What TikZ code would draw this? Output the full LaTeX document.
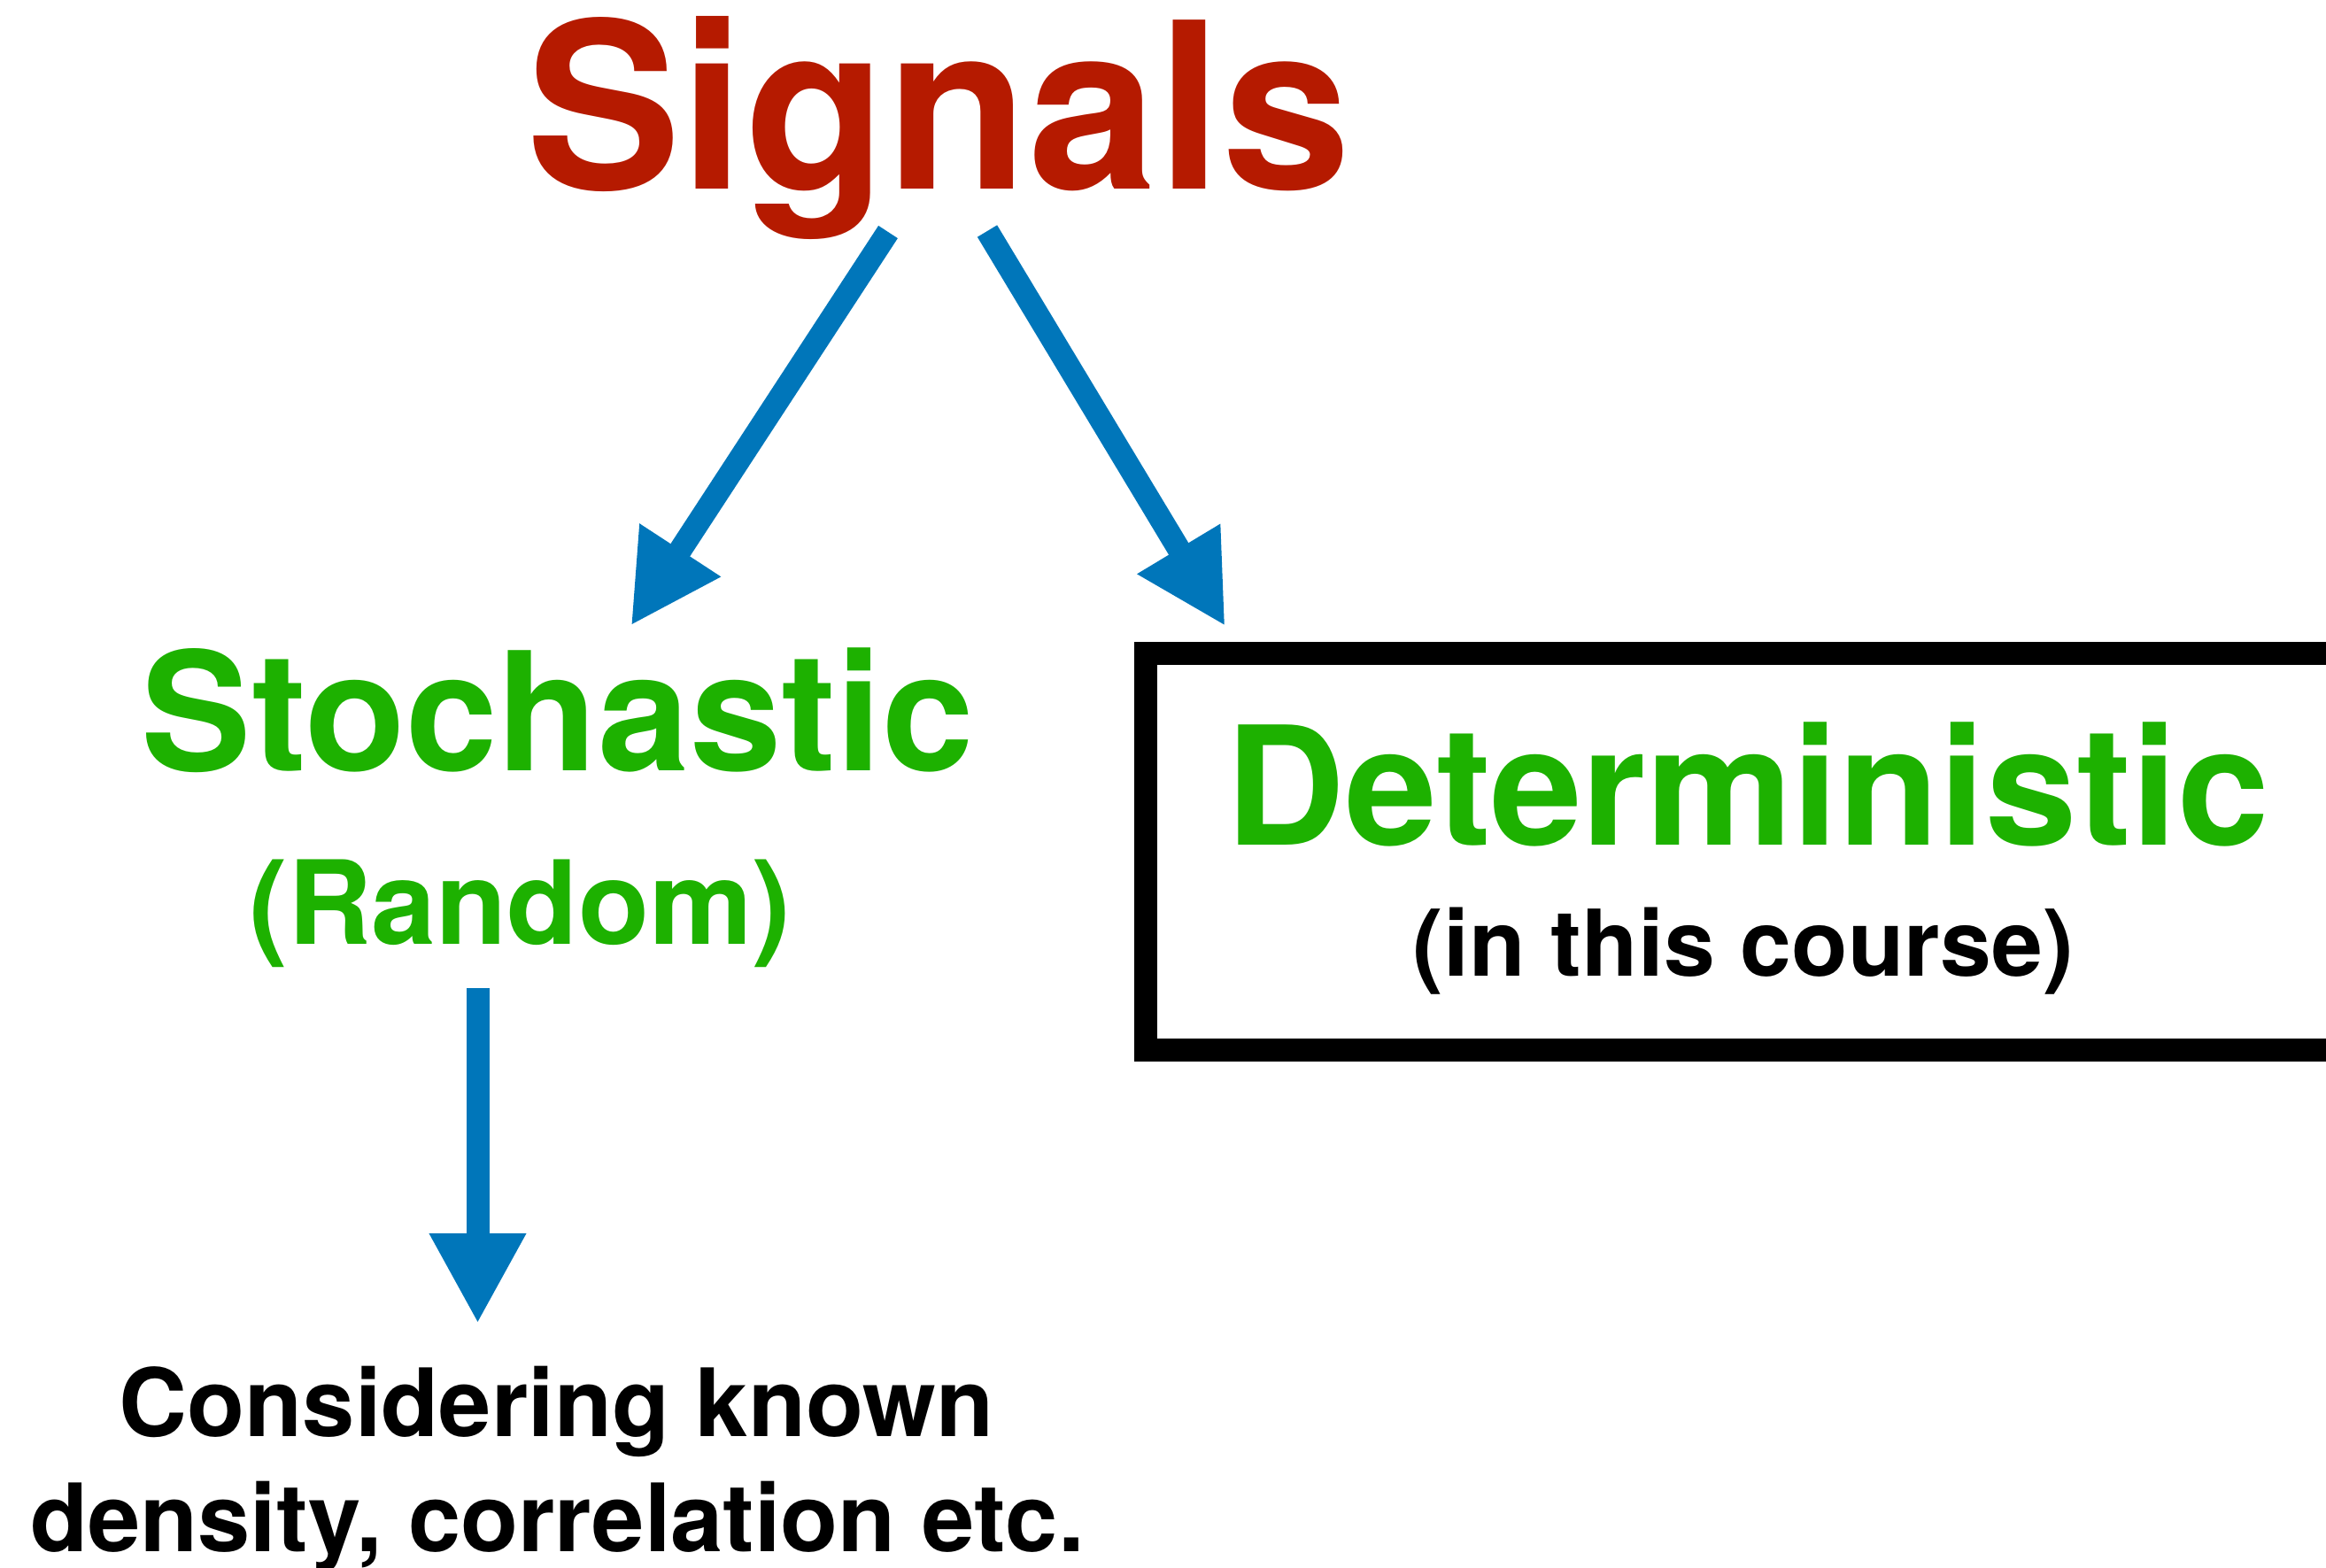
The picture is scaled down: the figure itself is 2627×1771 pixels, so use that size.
\documentclass[tikz,border=0pt]{standalone}
\usepackage{fontspec}
\setmainfont{TeX Gyre Heros}
\usetikzlibrary{arrows.meta,calc}

\definecolor{sigred}{HTML}{B51A00}
\definecolor{catgreen}{HTML}{1DB100}
\definecolor{flowblue}{HTML}{0076BA}

\tikzset{
  lbl/.style={inner sep=0pt, anchor=base, font=\bfseries},
  flow/.style={draw=flowblue, line width=2.6mm,
    -{Triangle[length=10.2mm,width=10.2mm]}, flowblue},
  frame/.style={draw=black, line width=2.6mm}
}

\begin{document}
\begin{tikzpicture}[x=0.1mm,y=-0.1mm]
  \useasboundingbox (0,0) rectangle (2627,1771);
  \clip (0,0) rectangle (2627,1771);

  % title
  \node[lbl, text=sigred, font=\bfseries\fontsize{74.5}{80}\selectfont]
    (sig) at (1060,214) {Signals};

  % left branch
  \node[lbl, text=catgreen, font=\bfseries\fontsize{53}{60}\selectfont]
    (sto) at (630,870) {Stochastic};
  \node[lbl, text=catgreen, font=\bfseries\fontsize{37.3}{44}\selectfont]
    (rnd) at (587.5,1066) {(Random)};
  \node[lbl, font=\bfseries\fontsize{30.3}{37}\selectfont]
    (cons1) at (628.5,1622) {Considering known};
  \node[lbl, font=\bfseries\fontsize{30.3}{37}\selectfont]
    (cons2) at (629.5,1752) {density, correlation etc.};

  % right branch, framed
  \draw[frame] (1294,737.5) rectangle (2720,1186);
  \node[lbl, text=catgreen, font=\bfseries\fontsize{53}{60}\selectfont]
    (det) at (1974,954) {Deterministic};
  \node[lbl, font=\bfseries\fontsize{29.6}{36}\selectfont]
    (crs) at (1969,1102) {(in this course)};

  % arrow end points, placed relative to the labels
  \coordinate (sigL) at ($(sig.base)+(-57,48)$);
  \coordinate (sigR) at ($(sig.base)+(55,47)$);
  \coordinate (stoIn) at ($(sto.base)+(82.5,-163.3)$);
  \coordinate (detIn) at ($(det.base)+(-590.2,-246.7)$);
  \coordinate (rndOut) at ($(rnd.base)+(-48,50)$);
  \coordinate (consIn) at ($(cons1.base)+(-89,-127)$);

  \draw[flow] (sigL) -- (stoIn);
  \draw[flow] (sigR) -- (detIn);
  \draw[flow] (rndOut) -- (consIn);
\end{tikzpicture}
\end{document}
